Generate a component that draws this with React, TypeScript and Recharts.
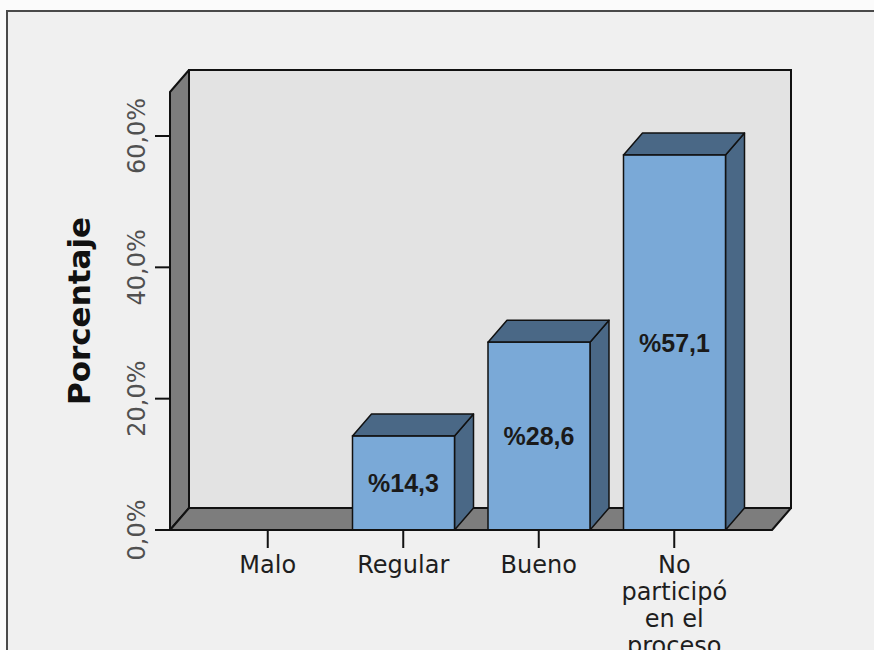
import React from "react";
import { BarChart, Bar, XAxis, YAxis, ReferenceArea, LabelList } from "recharts";

const categories = ["Malo", "Regular", "Bueno", "No participó en el proceso"];
const percentages = [0, 14.3, 28.6, 57.1];
const yTicks = [0, 20, 40, 60];
const yMax = 66.7;
const yTitle = "Porcentaje";

const data = categories.map((c, i) => ({ name: c, value: percentages[i] }));

const DX = 19;
const DY = 22;
const PAD = 30;

const fmtPct = (v: number) => v.toFixed(1).replace(".", ",") + "%";
const fmtLabel = (v: number) => "%" + v.toFixed(1).replace(".", ",");

function wrap(s: string, max: number): string[] {
  const words = s.split(" ");
  const lines: string[] = [];
  let cur = "";
  for (const w of words) {
    const t = cur ? cur + " " + w : w;
    if (t.length > max && cur) {
      lines.push(cur);
      cur = w;
    } else cur = t;
  }
  if (cur) lines.push(cur);
  return lines;
}

const Walls = (props: any) => {
  const { x, y, width, height } = props;
  const x0 = x - PAD;
  const x1 = x + width + PAD;
  const yb = y + height;
  const yt = y;
  return (
    <g>
      <rect x={x0 + DX} y={yt - DY} width={x1 - x0} height={height} fill="#e3e3e3" stroke="#111" strokeWidth={2} />
      <polygon
        points={`${x0},${yb} ${x0},${yt} ${x0 + DX},${yt - DY} ${x0 + DX},${yb - DY}`}
        fill="#7d7d7d"
        stroke="#111"
        strokeWidth={2}
        strokeLinejoin="round"
      />
      <polygon
        points={`${x0},${yb} ${x0 + DX},${yb - DY} ${x1 + DX},${yb - DY} ${x1},${yb}`}
        fill="#7d7d7d"
        stroke="#111"
        strokeWidth={2}
        strokeLinejoin="round"
      />
    </g>
  );
};

const Bar3D = (props: any) => {
  const { x, y, width, height } = props;
  if (!height || height <= 0) return null;
  const top = `${x},${y} ${x + DX},${y - DY} ${x + width + DX},${y - DY} ${x + width},${y}`;
  const side = `${x + width},${y} ${x + width + DX},${y - DY} ${x + width + DX},${y + height - DY} ${x + width},${y + height}`;
  return (
    <g>
      <polygon points={side} fill="#4a6886" stroke="#111" strokeWidth={1.5} strokeLinejoin="round" />
      <polygon points={top} fill="#4a6886" stroke="#111" strokeWidth={1.5} strokeLinejoin="round" />
      <rect x={x} y={y} width={width} height={height} fill="#7aa9d7" stroke="#111" strokeWidth={1.5} />
    </g>
  );
};

const YTick = (props: any) => {
  const { x, y, payload } = props;
  const cx = x - 18;
  return (
    <text
      x={cx}
      y={y}
      transform={`rotate(-90 ${cx} ${y})`}
      textAnchor="middle"
      dominantBaseline="central"
      fontFamily="DejaVu Sans"
      fontSize={24}
      fill="#505050"
    >
      {fmtPct(payload.value)}
    </text>
  );
};

const XTick = (props: any) => {
  const { x, y, payload } = props;
  const lines = wrap(String(payload.value), 9);
  return (
    <text x={x} y={y} textAnchor="middle" fontFamily="DejaVu Sans" fontSize={24} fill="#1e1e1e">
      {lines.map((l, i) => (
        <tspan key={i} x={x} y={y + 25 + i * 27}>
          {l}
        </tspan>
      ))}
    </text>
  );
};

const BarLabel = (props: any) => {
  const { x, y, width, height, value } = props;
  if (!value) return null;
  return (
    <text
      x={x + width / 2}
      y={y + height / 2}
      textAnchor="middle"
      dominantBaseline="central"
      fontFamily="Liberation Sans"
      fontWeight="bold"
      fontSize={25}
      fill="#1a1a1a"
    >
      {fmtLabel(value)}
    </text>
  );
};

const YTitle = (props: any) => {
  const vb = props.viewBox || {};
  const cx = (vb.x || 0) + 79;
  const cy = (vb.y || 0) + (vb.height || 0) / 2;
  return (
    <text
      x={cx}
      y={cy}
      transform={`rotate(-90 ${cx} ${cy})`}
      textAnchor="middle"
      dominantBaseline="central"
      fontFamily="DejaVu Sans"
      fontWeight="bold"
      fontSize={31}
      fill="#111"
    >
      {yTitle}
    </text>
  );
};

export default function App() {
  return (
    <div style={{ position: "absolute", left: 0, top: 0, width: 874, height: 650, overflow: "hidden", background: "#fbfbfb" }}>
      <div
        style={{
          position: "absolute",
          left: 6,
          top: 10,
          width: 920,
          height: 720,
          border: "2px solid #4a4a4a",
          background: "#f0f0f0",
        }}
      />
      <div style={{ position: "absolute", left: 0, top: 0 }}>
        <BarChart width={874} height={650} data={data} margin={{ top: 92, right: 102, bottom: 0, left: 0 }} barSize={102}>
          <ReferenceArea y1={0} y2={yMax} shape={<Walls />} ifOverflow="visible" />
          <XAxis
            dataKey="name"
            padding={{ left: PAD, right: PAD }}
            height={120}
            tickSize={18}
            tickMargin={0}
            tickLine={{ stroke: "#111", strokeWidth: 2 }}
            axisLine={{ stroke: "#111", strokeWidth: 2 }}
            tick={<XTick />}
            interval={0}
          />
          <YAxis
            width={170}
            domain={[0, yMax]}
            ticks={yTicks}
            tickSize={15}
            tickMargin={0}
            tickLine={{ stroke: "#111", strokeWidth: 2 }}
            axisLine={{ stroke: "#111", strokeWidth: 2 }}
            tick={<YTick />}
            allowDataOverflow
            label={{ content: <YTitle /> }}
          />
          <Bar dataKey="value" shape={<Bar3D />} isAnimationActive={false}>
            <LabelList dataKey="value" content={<BarLabel />} />
          </Bar>
        </BarChart>
      </div>
    </div>
  );
}
